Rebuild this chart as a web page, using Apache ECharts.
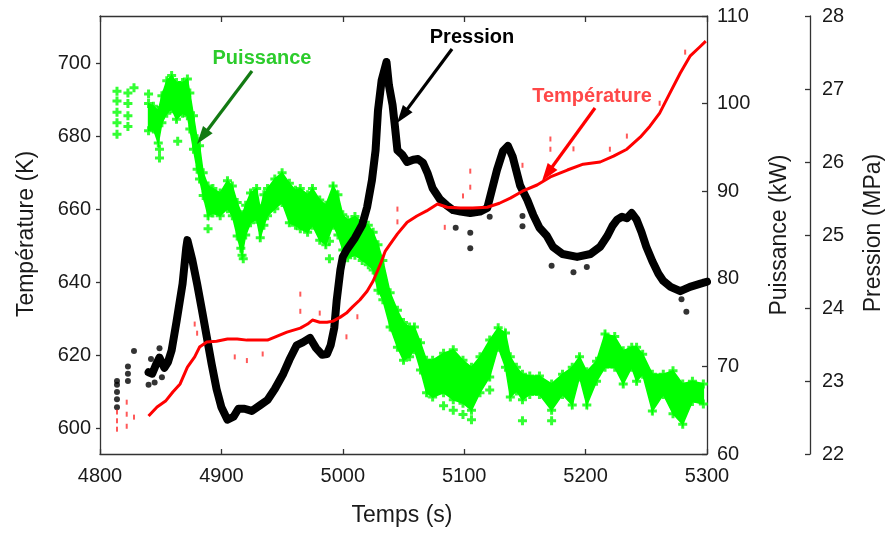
<!DOCTYPE html>
<html><head><meta charset="utf-8">
<script src="https://cdn.jsdelivr.net/npm/echarts@6/dist/echarts.min.js"></script>
<style>html,body{margin:0;padding:0;background:#fff}#c{width:891px;height:533px}</style>
</head><body><div id="c"></div>
<script>
// ---- Data ----
const xTicks = [4800, 4900, 5000, 5100, 5200, 5300];
const tempTicks = [600, 620, 640, 660, 680, 700];

// Puissance (kW) band: time, upper edge, lower edge
const greenT = [4840,4844,4848,4851,4855,4859,4863,4868,4872,4874,4877,4880,4882,4885,4889,4893,4899,4905,4909,4913,4917,4920,4924,4929,4932,4935,4938,4944,4950,4956,4961,4965,4971,4975,4981,4986,4992,4996,5000,5004,5010,5016,5021,5025,5029,5033,5039,5045,5050,5055,5059,5064,5069,5074,5083,5091,5099,5106,5113,5121,5128,5134,5138,5143,5148,5154,5162,5172,5181,5189,5195,5201,5209,5216,5224,5231,5238,5242,5247,5255,5264,5272,5280,5288,5297];
const greenHi = [100.0,99.7,99.2,100.9,102.6,103.2,102.4,102.4,102.8,101.2,98.6,96.0,95.2,92.1,90.6,90.3,89.8,91.2,90.6,88.7,87.3,88.4,89.8,90.3,88.0,89.6,90.3,91.4,92.1,90.9,90.1,90.3,89.6,90.3,89.0,88.4,90.6,89.6,87.3,86.7,87.1,86.5,86.1,85.3,83.9,82.1,78.4,76.4,75.0,74.5,74.5,72.7,70.7,70.7,71.5,71.9,70.7,69.9,71.1,73.0,74.4,73.8,71.1,69.9,69.1,68.9,68.9,68.0,69.1,69.9,71.1,69.4,70.6,73.7,73.4,71.8,72.2,72.2,71.4,69.1,69.1,69.5,68.0,68.3,68.0];
const greenLo = [96.9,97.1,95.5,97.8,98.9,99.4,98.2,98.9,98.6,97.1,94.8,92.5,91.4,89.5,87.2,87.5,87.2,88.0,87.2,84.9,82.7,85.0,86.4,86.8,84.7,86.1,87.2,88.0,88.7,86.4,86.1,85.7,85.3,86.1,84.4,83.9,86.1,85.0,83.3,82.4,82.7,82.1,81.6,81.0,78.7,77.6,74.5,72.2,70.7,71.1,71.9,69.6,67.0,66.5,67.0,66.2,65.8,65.0,67.0,68.8,72.2,69.9,66.5,67.2,66.2,66.8,66.8,65.0,66.8,65.6,68.8,65.6,68.3,69.9,69.9,68.0,69.9,68.3,69.1,64.9,66.8,64.6,63.4,66.0,65.7];
const greenOutT = [4814,4814,4814,4814,4814,4823,4823,4823,4823,4828,4840,4849,4849,4864,4889,4916,4918,4989,4989,5083,5091,5099,5106,5121,5148,5172];
const greenOutV = [101.4,100.3,99.0,97.8,96.5,101.2,100.0,98.6,97.4,101.8,101.1,94.8,93.8,95.7,85.7,83.5,82.3,84.3,82.3,65.5,65.0,64.5,63.9,67.3,63.8,63.8];

// Pression (MPa)
const blackT = [4840,4843,4846,4849,4853,4856,4859,4863,4868,4871,4872,4876,4880,4884,4888,4892,4896,4900,4905,4910,4914,4919,4925,4932,4938,4944,4951,4956,4962,4967,4973,4978,4983,4987,4990,4993,4995,4998,5000,5003,5010,5016,5020,5024,5027,5029,5032,5036,5038,5041,5043,5045,5049,5053,5058,5062,5066,5070,5074,5080,5086,5091,5097,5105,5113,5119,5123,5127,5132,5136,5140,5146,5152,5157,5162,5168,5173,5181,5193,5204,5212,5218,5222,5226,5230,5234,5238,5242,5246,5250,5255,5260,5264,5270,5278,5286,5294,5300];
const blackV = [23.12,23.10,23.22,23.32,23.18,23.26,23.42,23.81,24.33,24.82,24.93,24.66,24.33,23.97,23.60,23.23,22.89,22.64,22.47,22.51,22.62,22.62,22.59,22.67,22.74,22.89,23.10,23.29,23.49,23.53,23.59,23.45,23.36,23.37,23.49,23.73,24.11,24.52,24.70,24.79,24.96,25.14,25.38,25.75,26.16,26.71,27.12,27.37,27.05,26.78,26.48,26.16,26.10,26.0,26.03,26.04,25.99,25.84,25.64,25.49,25.40,25.34,25.32,25.30,25.32,25.37,25.63,25.89,26.15,26.22,26.07,25.68,25.48,25.27,25.10,24.99,24.84,24.74,24.70,24.74,24.84,24.99,25.12,25.21,25.25,25.23,25.30,25.21,25.04,24.84,24.64,24.47,24.37,24.29,24.23,24.29,24.33,24.36];
const blackOutT = [4814,4814,4814,4814,4814,4823,4823,4823,4828,4840,4842,4845,4849,4851,5093,5105,5105,5121,5148,5148,5172,5190,5201,5279,5283];
const blackOutV = [22.64,22.75,22.85,22.95,23.00,23.00,23.10,23.20,23.41,22.95,23.30,22.98,23.45,23.05,25.10,24.82,25.03,25.25,25.26,25.12,24.58,24.49,24.56,24.12,23.95];

// Température (K)
const redT = [4840,4847,4854,4860,4866,4872,4878,4882,4888,4896,4905,4913,4921,4929,4938,4946,4954,4965,4971,4975,4981,4987,4992,4998,5003,5008,5014,5020,5025,5031,5035,5039,5045,5053,5061,5069,5078,5086,5097,5107,5119,5129,5138,5148,5160,5171,5185,5198,5212,5223,5234,5245,5253,5261,5269,5278,5286,5294,5299];
const redV = [603.3,605.8,607.4,609.9,612.1,616.7,619.5,622.2,623.6,623.8,624.4,624.4,624.1,624.1,624.1,625.2,626.3,627.4,628.5,629.6,629.0,629.0,629.3,630.4,631.5,633.2,635.1,637.5,640.3,644.9,648.5,650.4,653.2,656.4,658.1,659.5,661.4,660.5,660.3,660.3,660.5,661.6,663.0,664.9,666.6,668.8,670.7,672.3,672.9,674.5,676.4,679.7,682.7,686.3,691.5,697.3,701.9,704.4,706.0];
const redSpT = [4814,4814,4814,4822,4822,4822,4828,4878,4880,4911,4921,4934,4965,4965,4981,5003,5012,5045,5045,5084,5099,5105,5105,5148,5171,5171,5190,5220,5234,5261,5282];
const redSpV = [604.4,602.0,599.7,607.1,603.8,600.5,603.0,628.5,626.0,619.5,618.5,620.3,636.7,632.0,631.5,625.0,630.5,660.0,656.5,655.0,663.6,670.4,666.0,672.0,679.2,676.4,676.5,676.4,680.0,689.0,703.0];

// ---- Chart ----
const PLUS = 'path://M3,0H6V3H9V6H6V9H3V6H0V3H3Z';
const FONT = "'Liberation Sans', Arial, sans-serif";
const TXT = '#1a1a1a';
const AX = '#333';
const pairs = (a, b) => a.map((t, i) => [t, b[i]]);
// band segments built from the green arrays
const bandSegs = greenT.slice(0, -1).map((t, i) => [t, greenLo[i], greenHi[i], greenT[i + 1], greenLo[i + 1], greenHi[i + 1]]);

function arrow(x1, y1, x2, y2, color, w) {
  const dx = x2 - x1, dy = y2 - y1, len = Math.hypot(dx, dy);
  const ux = dx / len, uy = dy / len, L = 18, W = 12;
  const bx = x2 - ux * L, by = y2 - uy * L;
  return [
    {type: 'line', z: 100, shape: {x1: x1, y1: y1, x2: bx + ux * 2, y2: by + uy * 2}, style: {stroke: color, lineWidth: w}},
    {type: 'polygon', z: 100, shape: {points: [[x2, y2], [bx - uy * W / 2, by + ux * W / 2], [bx + uy * W / 2, by - ux * W / 2]]}, style: {fill: color}}
  ];
}

const chart = echarts.init(document.getElementById('c'), null, {renderer: 'canvas'});
const fmt = v => String(v);
const axisLabel = {fontFamily: FONT, fontSize: 20, color: TXT, formatter: fmt};
const option = {
  animation: false,
  backgroundColor: '#ffffff',
  grid: {left: 100, top: 16, width: 607, height: 438, containLabel: false},
  xAxis: [
    {type: 'value', min: 4800, max: 5300, interval: 100, position: 'bottom',
     axisLine: {lineStyle: {color: AX, width: 1.3}},
     axisTick: {inside: true, length: 5, lineStyle: {color: AX, width: 1.3}},
     axisLabel: Object.assign({margin: 12}, axisLabel),
     splitLine: {show: false}},
    {type: 'value', min: 4800, max: 5300, interval: 100, position: 'top',
     axisLine: {lineStyle: {color: AX, width: 1.3}},
     axisTick: {inside: true, length: 6, lineStyle: {color: AX, width: 1.3}},
     axisLabel: {show: false}, splitLine: {show: false}}
  ],
  yAxis: [
    {type: 'value', min: 592.9, max: 712.9, position: 'left',
     axisLine: {show: true, lineStyle: {color: AX, width: 1.3}},
     axisTick: {show: true, inside: false, length: 4, customValues: tempTicks, lineStyle: {color: AX, width: 1.3}},
     axisLabel: Object.assign({margin: 9, customValues: tempTicks}, axisLabel),
     splitLine: {show: false}},
    {type: 'value', min: 60, max: 110, interval: 10, position: 'right',
     axisLine: {show: true, lineStyle: {color: AX, width: 1.3}},
     axisTick: {show: true, inside: true, length: 5, lineStyle: {color: AX, width: 1.3}},
     axisLabel: Object.assign({margin: 10}, axisLabel),
     splitLine: {show: false}},
    {type: 'value', min: 22, max: 28, interval: 1, position: 'right', offset: 103,
     axisLine: {show: true, lineStyle: {color: AX, width: 1.3}},
     axisTick: {show: true, inside: true, length: 5, lineStyle: {color: AX, width: 1.3}},
     axisLabel: Object.assign({margin: 12}, axisLabel),
     splitLine: {show: false}}
  ],
  series: [
    {name: 'P_band', type: 'custom', xAxisIndex: 0, yAxisIndex: 1, data: bandSegs,
     encode: {x: [0, 3], y: [1, 2, 4, 5]}, z: 2, silent: true,
     renderItem: function (params, api) {
       const a = api.coord([api.value(0), api.value(1)]);
       const b = api.coord([api.value(0), api.value(2)]);
       const c = api.coord([api.value(3), api.value(5)]);
       const d = api.coord([api.value(3), api.value(4)]);
       return {type: 'polygon', shape: {points: [a, b, c, d]},
               style: {fill: '#00ff00', stroke: '#00ff00', lineWidth: 1.5}};
     }},
    {name: 'P_hi', type: 'scatter', yAxisIndex: 1, data: pairs(greenT, greenHi),
     symbol: PLUS, symbolSize: 9, itemStyle: {color: '#00ff00'}, z: 2, silent: true},
    {name: 'P_lo', type: 'scatter', yAxisIndex: 1, data: pairs(greenT, greenLo),
     symbol: PLUS, symbolSize: 9, itemStyle: {color: '#00ff00'}, z: 2, silent: true},
    {name: 'P_out', type: 'scatter', yAxisIndex: 1, data: pairs(greenOutT, greenOutV),
     symbol: PLUS, symbolSize: 9, itemStyle: {color: '#00ff00'}, z: 2, silent: true},
    {name: 'Pression', type: 'line', yAxisIndex: 2, data: pairs(blackT, blackV),
     showSymbol: false, lineStyle: {color: '#000', width: 8, cap: 'round', join: 'round'}, z: 3, silent: true},
    {name: 'Pr_out', type: 'scatter', yAxisIndex: 2, data: pairs(blackOutT, blackOutV),
     symbol: 'circle', symbolSize: 6, itemStyle: {color: '#000'}, z: 3, silent: true},
    {name: 'Temperature', type: 'line', yAxisIndex: 0, data: pairs(redT, redV),
     showSymbol: false, lineStyle: {color: '#ff0000', width: 3, join: 'round'}, z: 4, silent: true},
    {name: 'T_sp', type: 'scatter', yAxisIndex: 0, data: pairs(redSpT, redSpV),
     symbol: 'rect', symbolSize: [2, 5], itemStyle: {color: '#ff3030'}, z: 4, silent: true}
  ],
  graphic: [
    {type: 'text', x: 27, y: 234, rotation: Math.PI / 2, z: 100,
     style: {text: 'Température (K)', font: "23px " + FONT, fill: TXT, align: 'center', verticalAlign: 'middle'}},
    {type: 'text', x: 780, y: 235, rotation: Math.PI / 2, z: 100,
     style: {text: 'Puissance (kW)', font: "23px " + FONT, fill: TXT, align: 'center', verticalAlign: 'middle'}},
    {type: 'text', x: 874, y: 233, rotation: Math.PI / 2, z: 100,
     style: {text: 'Pression (MPa)', font: "23px " + FONT, fill: TXT, align: 'center', verticalAlign: 'middle'}},
    {type: 'text', x: 402, y: 516, z: 100,
     style: {text: 'Temps (s)', font: "23px " + FONT, fill: TXT, align: 'center', verticalAlign: 'middle'}},
    {type: 'text', x: 262, y: 58, z: 100,
     style: {text: 'Puissance', font: "bold 20px " + FONT, fill: '#2ccc2c', align: 'center', verticalAlign: 'middle'}},
    {type: 'text', x: 472, y: 37, z: 100,
     style: {text: 'Pression', font: "bold 20px " + FONT, fill: '#000', align: 'center', verticalAlign: 'middle'}},
    {type: 'text', x: 592, y: 96, z: 100,
     style: {text: 'Température', font: "bold 20px " + FONT, fill: '#ff4848', align: 'center', verticalAlign: 'middle'}}
  ].concat(arrow(252, 71, 197, 144, '#127a12', 3.2))
   .concat(arrow(452, 49, 397, 123, '#000000', 3.2))
   .concat(arrow(595, 108, 542, 181, '#ff0000', 3.2))
};
chart.setOption(option);
</script>
</body></html>
